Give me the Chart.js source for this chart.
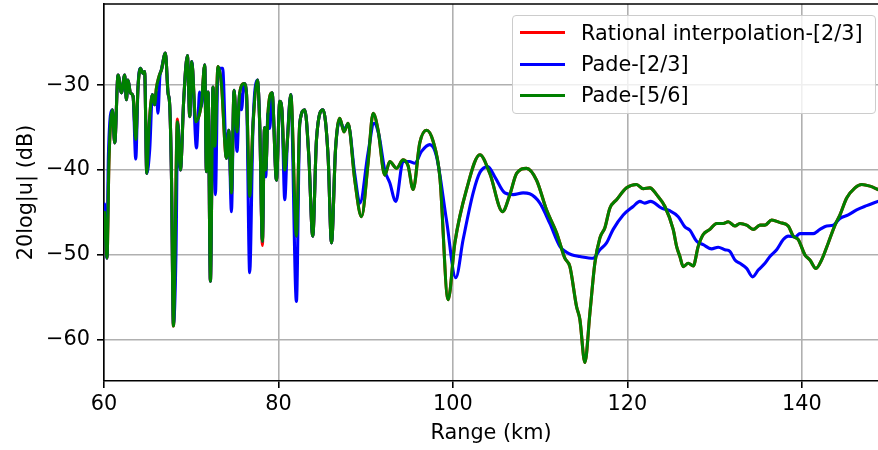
<!DOCTYPE html>
<html>
<head>
<meta charset="utf-8">
<script src="https://cdn.jsdelivr.net/npm/chart.js@4"></script>
<style>
  html, body { margin: 0; padding: 0; background: #fff; }
  #wrap { position: relative; width: 878px; height: 450px; }
  #legend {
    position: absolute; left: 512px; top: 15px; width: 362px; height: 97px;
    border: 1.6px solid #cccccc; border-radius: 4px; background: rgba(255,255,255,0.8);
    font-family: 'DejaVu Sans', sans-serif; font-size: 20.8px; color: #000;
  }
  .row { position: absolute; left: 0; height: 26px; line-height: 26px; white-space: nowrap; }
  .swatch { position: absolute; left: 7px; top: 11.5px; width: 45px; height: 3.1px; }
  .lbl { position: absolute; left: 68px; top: 0; }
</style>
</head>
<body>
<div id="wrap">
  <canvas id="c" width="878" height="450"></canvas>
  <div id="legend"></div>
</div>
<script>
// ---- data ----
const seriesNames = ['Rational interpolation-[2/3]', 'Pade-[2/3]', 'Pade-[5/6]'];
const xTicks = [60, 80, 100, 120, 140];
const yTicks = [-60, -50, -40, -30];

const greenX = [60.05,60.34,60.57,60.96,61.23,61.61,62.0,62.37,62.57,62.75,63.03,63.33,63.64,63.9,64.17,64.47,64.66,64.9,65.16,65.55,65.81,66.0,66.3,66.58,67.04,67.34,67.53,67.73,67.96,68.42,68.76,69.14,69.56,69.83,70.06,70.52,71.17,71.55,71.74,71.93,72.2,72.5,72.7,73.07,73.46,74.04,74.3,74.61,74.91,75.25,75.56,76.06,76.33,76.7,77.09,77.59,77.86,78.16,78.4,78.54,78.8,79.27,79.77,80.15,80.4,80.72,81.03,81.41,82.06,82.44,83.02,83.48,83.93,84.36,85.11,85.69,86.08,86.54,87.03,87.52,87.98,88.75,89.52,90.27,90.85,91.42,92.19,92.76,93.53,94.29,94.86,95.44,96.2,96.97,97.73,98.5,99.45,100.22,101.56,103.09,104.23,105.69,106.53,107.3,108.44,109.59,110.73,111.88,112.83,113.41,114.17,114.55,115.13,115.7,116.27,116.85,117.42,117.99,118.76,119.91,121.05,121.81,122.58,123.35,124.3,125.25,125.64,126.02,126.4,126.97,127.55,128.12,128.69,129.46,130.23,130.99,131.56,132.33,132.9,133.67,134.43,135.2,135.77,136.54,137.49,138.44,139.01,139.59,140.35,140.93,141.62,142.27,143.03,143.8,144.37,145.14,146.09,146.86,147.81,148.73];
const greenY = [-45,-50.4,-38.8,-32.9,-36.8,-28.8,-30.9,-28.8,-31.7,-29.4,-30.9,-31.3,-36.4,-30.2,-28.0,-28.6,-28.4,-40.4,-34.9,-31.1,-32.3,-30.4,-29.0,-28.2,-26.2,-30.9,-32.3,-40.4,-58.4,-34.3,-40.0,-31.7,-26.5,-33.7,-27.2,-34.3,-32.1,-27.6,-40.2,-30.8,-53.1,-30.2,-37.2,-27.8,-29.8,-38.6,-35.3,-42.7,-30.6,-35.5,-30.9,-29.8,-30.9,-43.1,-34.5,-29.4,-34.9,-48.4,-35.0,-40.0,-33.3,-30.9,-41.2,-31.9,-33.0,-40.0,-36.4,-31.1,-47.8,-34.5,-32.9,-38.4,-47.8,-36.4,-32.9,-38.4,-48.6,-37.6,-33.9,-35.5,-34.5,-41.2,-45.5,-39.2,-33.3,-35.3,-40.6,-39.0,-39.8,-38.8,-39.5,-42.3,-36.8,-35.3,-36.6,-40.8,-55.3,-48.6,-42.3,-38.2,-40.4,-44.9,-42.9,-40.4,-39.8,-41.2,-44.7,-47.4,-50.4,-51.4,-56.1,-57.6,-62.7,-56.9,-51.0,-48.0,-46.8,-44.5,-43.5,-42.1,-41.7,-42.2,-42.1,-42.9,-44.3,-47.0,-49.0,-50.2,-51.4,-51.0,-51.3,-49.0,-47.6,-47.0,-46.3,-46.3,-46.1,-46.6,-46.3,-46.5,-47.0,-46.5,-46.5,-45.9,-46.2,-46.6,-47.8,-48.2,-50.0,-50.6,-51.6,-50.6,-48.6,-46.5,-45.3,-43.3,-42.1,-41.7,-41.9,-42.3];

// red follows green almost exactly (small deeper tips)
const redY = greenY.map(v => v);
const redTips = [[29, -34.0], [47, -43.0], [57, -48.9]];

const blueX = [60.05,60.34,60.5,60.96,61.23,61.61,62.0,62.37,62.57,62.75,63.03,63.33,63.64,63.9,64.17,64.47,64.66,64.9,65.24,65.55,65.81,66.0,66.19,66.4,66.58,67.04,67.34,67.53,67.73,67.96,68.25,68.45,68.76,69.14,69.56,69.83,70.06,70.6,70.97,71.17,71.55,71.74,71.93,72.2,72.5,72.77,73.07,73.6,74.04,74.3,74.61,74.91,75.25,75.56,75.76,76.06,76.33,76.7,77.09,77.59,77.86,78.16,78.4,78.54,78.8,79.0,79.27,79.77,80.15,80.4,80.72,81.03,81.41,82.06,82.44,83.02,83.48,83.93,84.36,85.11,85.69,86.08,86.54,87.03,87.52,87.98,88.75,89.34,90.27,90.96,91.5,92.19,92.76,93.45,94.29,95.0,95.63,96.4,97.35,98.12,99.26,100.33,101.17,102.32,103.09,104.0,104.8,105.95,106.9,108.05,108.8,109.97,111.11,112.26,113.03,113.6,114.55,116.08,116.85,117.61,118.37,119.52,120.66,121.43,121.98,122.66,123.92,124.87,125.83,126.59,127.17,127.94,128.69,129.65,130.41,131.18,131.75,132.33,132.9,133.67,134.36,135.0,135.77,136.34,137.11,137.87,138.44,139.21,139.78,140.55,141.31,142.08,142.85,143.6,144.37,145.32,146.28,147.43,148.73];
const blueY = [-44,-50.4,-38.5,-32.9,-36.8,-28.8,-30.9,-28.8,-31.7,-29.4,-30.9,-31.3,-38.7,-30.2,-28.0,-28.6,-28.4,-40.4,-37.6,-31.1,-32.3,-30.8,-33.3,-29.0,-28.2,-26.2,-30.9,-32.3,-40.4,-58.2,-50.0,-34.4,-40.0,-31.7,-26.5,-33.7,-27.2,-37.4,-30.8,-32.5,-27.6,-40.2,-30.8,-53.1,-30.2,-42.9,-28.0,-28.0,-38.6,-35.3,-44.9,-30.6,-37.8,-30.9,-32.9,-29.8,-30.9,-52.1,-34.5,-29.4,-34.9,-48.4,-35.0,-40.8,-33.3,-35.1,-30.9,-41.2,-31.9,-33.0,-43.5,-36.4,-31.1,-55.5,-34.5,-32.9,-38.4,-47.8,-36.4,-32.9,-38.4,-48.6,-37.6,-34.2,-35.2,-34.6,-40.5,-43.9,-38.0,-34.5,-35.8,-40.0,-41.5,-43.7,-39.0,-39.0,-39.2,-37.8,-37.0,-38.4,-45.9,-52.7,-48.2,-42.7,-40.3,-39.6,-40.8,-42.7,-42.9,-42.7,-42.8,-43.9,-46.3,-49.0,-49.7,-50.0,-50.2,-50.4,-49.4,-48.6,-47.0,-45.3,-44.3,-43.7,-43.9,-43.7,-44.5,-44.8,-45.5,-46.7,-47.1,-48.4,-48.8,-49.3,-49.1,-49.4,-49.6,-50.6,-51.0,-51.6,-52.6,-51.8,-51.0,-50.2,-49.4,-48.2,-47.8,-47.9,-47.5,-47.5,-47.5,-47.0,-46.6,-46.5,-45.7,-45.3,-44.7,-44.2,-43.7];

const colors = ['#ff0000', '#0000ff', '#008000'];

// ---- build ----
redTips.forEach(([i, v]) => { redY[i] = v; });
const pts = (xs, ys) => xs.map((x, i) => ({ x: x, y: ys[i] }));

const FONT = { family: "'DejaVu Sans', sans-serif", size: 20.8 };
const LW = 3.1;

const topSpine = {
  id: 'topSpine',
  afterDraw(chart) {
    const { ctx, chartArea } = chart;
    ctx.save();
    ctx.strokeStyle = '#000';
    ctx.lineWidth = 1.6;
    ctx.beginPath();
    ctx.moveTo(chartArea.left - 0.8, chartArea.top);
    ctx.lineTo(chartArea.right, chartArea.top);
    ctx.stroke();
    ctx.restore();
  }
};

new Chart(document.getElementById('c'), {
  type: 'line',
  data: {
    datasets: [
      { label: seriesNames[0], data: pts(greenX, redY), borderColor: colors[0], order: 3 },
      { label: seriesNames[1], data: pts(blueX, blueY), borderColor: colors[1], order: 2 },
      { label: seriesNames[2], data: pts(greenX, greenY), borderColor: colors[2], order: 1 }
    ]
  },
  options: {
    responsive: false,
    devicePixelRatio: 1,
    animation: false,
    layout: { padding: { top: 4, right: 0, left: 0, bottom: 0 } },
    elements: {
      point: { radius: 0 },
      line: { borderWidth: LW, cubicInterpolationMode: 'monotone', borderCapStyle: 'round', borderJoinStyle: 'round', fill: false }
    },
    plugins: { legend: { display: false }, tooltip: { enabled: false } },
    scales: {
      x: {
        type: 'linear', min: 60, max: 148.73,
        afterFit(s) { s.height = 69; s.paddingLeft = 0; s.paddingRight = 0; },
        afterBuildTicks(s) { s.ticks = xTicks.map(v => ({ value: v })); },
        ticks: { font: FONT, color: '#000', padding: 4, maxRotation: 0, includeBounds: false },
        grid: { color: '#b0b0b0', lineWidth: 1.6, tickColor: '#000', tickLength: 7, tickWidth: 1.6 },
        border: { color: '#000', width: 1.6 },
        title: { display: true, text: 'Range (km)', font: FONT, color: '#000', padding: { top: 0, bottom: 4 } }
      },
      y: {
        type: 'linear', min: -64.88, max: -20.42,
        afterFit(s) { s.width = 104; s.paddingTop = 0; s.paddingBottom = 0; },
        afterBuildTicks(s) { s.ticks = yTicks.map(v => ({ value: v })); },
        ticks: { font: FONT, color: '#000', padding: 7, includeBounds: false,
                 callback: v => String(v).replace('-', '\u2212') },
        grid: { color: '#b0b0b0', lineWidth: 1.6, tickColor: '#000', tickLength: 7, tickWidth: 1.6 },
        border: { color: '#000', width: 1.6 },
        title: { display: true, text: '20log|u| (dB)', font: FONT, color: '#000', padding: { top: 14, bottom: 0 } }
      }
    }
  },
  plugins: [topSpine]
});

// ---- legend as real text ----
const legend = document.getElementById('legend');
const rowTops = [3.7, 35.3, 66.3];
seriesNames.forEach((name, i) => {
  const row = document.createElement('div');
  row.className = 'row';
  row.style.top = rowTops[i] + 'px';
  const sw = document.createElement('div');
  sw.className = 'swatch';
  sw.style.background = colors[i];
  const lb = document.createElement('span');
  lb.className = 'lbl';
  lb.textContent = name;
  row.appendChild(sw);
  row.appendChild(lb);
  legend.appendChild(row);
});
</script>
</body>
</html>
